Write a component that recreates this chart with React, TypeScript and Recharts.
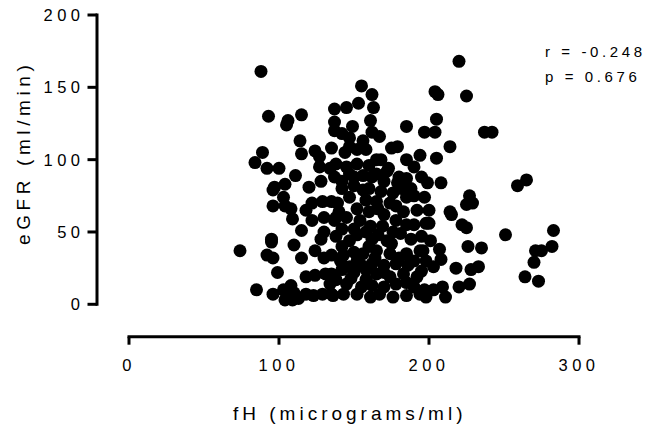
import React from 'react';
import { ScatterChart, Scatter, XAxis, YAxis, ReferenceLine, Customized } from 'recharts';

const xTicks = [0, 100, 200, 300];
const yTicks = [0, 50, 100, 150, 200];
const xTitle = 'fH (micrograms/ml)';
const yTitle = 'eGFR (ml/min)';
const statR = 'r = -0.248';
const statP = 'p = 0.676';

// fH (x) values
const fH = [
  88, 93, 106, 105, 115, 137, 137, 137, 114, 115, 89, 84, 92, 100, 124, 127, 135, 127, 134, 111,
  97, 104, 120, 128, 137, 155, 162, 145, 153, 163, 149, 161, 185, 162, 167, 156, 147, 147, 175, 179,
  194, 205, 144, 152, 158, 138, 145, 152, 173, 180, 185, 162, 156, 220, 204, 206, 225, 205, 197, 204,
  237, 242, 214, 199, 208, 259, 265, 227, 197, 225, 229, 214, 215, 200, 222, 225, 251, 283, 195, 201,
  226, 235, 207, 271, 275, 282, 208, 270, 218, 228, 233, 264, 273, 220, 227, 197, 203, 209, 211, 196,
  198, 203, 195, 96, 103, 96, 104, 108, 109, 118, 122, 129, 135, 122, 115, 95, 95, 74, 110, 92,
  96, 115, 124, 130, 135, 99, 118, 124, 131, 135, 85, 96, 103, 108, 110, 118, 123, 129, 135, 104,
  109, 113, 147, 172, 179, 139, 147, 156, 165, 174, 185, 192, 198, 137, 145, 154, 161, 169, 178, 181,
  138, 147, 156, 165, 174, 185, 194, 141, 147, 158, 165, 174, 183, 192, 138, 145, 136, 143, 152, 161,
  167, 176, 185, 194, 198, 142, 150, 160, 168, 176, 188, 152, 160, 170, 183, 142, 152, 162, 172, 188,
  190, 155, 162, 170, 178, 186, 175, 160, 150, 185, 170, 155, 148, 142, 200, 195, 190, 168, 165, 170,
  142, 130, 128, 130, 140, 150, 158, 166, 176, 185, 143, 152, 164, 180, 190, 150, 158, 170, 178, 190,
  162, 142, 134, 138, 158, 166, 178, 190, 150, 142, 165, 160, 185, 182
];

// eGFR (y) values
const eGFR = [
  161, 130, 127, 124, 131, 135, 126, 120, 113, 104, 105, 98, 94, 94, 106, 102, 108, 95, 94, 89,
  81, 83, 81, 85, 88, 151, 145, 136, 139, 136, 123, 127, 123, 119, 116, 113, 115, 109, 108, 109,
  103, 101, 105, 107, 107, 97, 95, 97, 94, 88, 87, 88, 89, 168, 147, 145, 144, 128, 119, 119,
  119, 119, 109, 84, 84, 82, 86, 75, 74, 69, 70, 64, 62, 56, 55, 53, 48, 51, 47, 44,
  40, 39, 38, 37, 37, 40, 31, 29, 25, 24, 26, 19, 16, 12, 14, 10, 10, 12, 5, 37,
  30, 26, 23, 79, 74, 68, 68, 66, 59, 65, 70, 71, 71, 58, 51, 45, 43, 37, 41, 34,
  32, 32, 37, 32, 34, 22, 19, 20, 21, 21, 10, 7, 10, 13, 8, 7, 6, 7, 7, 3,
  3, 4, 90, 92, 84, 70, 74, 79, 71, 70, 74, 65, 56, 58, 60, 58, 54, 54, 58, 49,
  47, 44, 35, 37, 35, 35, 37, 30, 26, 17, 21, 19, 21, 19, 17, 14, 6, 7, 7, 5,
  7, 5, 6, 7, 5, 80, 82, 80, 78, 77, 80, 66, 64, 62, 64, 52, 48, 45, 44, 45,
  55, 27, 28, 27, 28, 27, 42, 40, 36, 15, 12, 12, 18, 40, 65, 88, 95, 100, 90, 85,
  118, 60, 45, 50, 64, 52, 50, 48, 50, 55, 34, 30, 32, 32, 30, 22, 24, 22, 14, 12,
  13, 24, 14, 60, 72, 66, 68, 75, 88, 85, 100, 96, 100, 80
];

const data = fH.map((x, i) => ({ x, y: eGFR[i] }));

const FONT = '"Liberation Sans", Arial, Helvetica, sans-serif';

const Dot = (props: any) => {
  const { cx, cy } = props;
  if (cx == null || cy == null) return null;
  return <circle cx={cx} cy={cy} r={6.5} fill="#000" />;
};

const tickStyle = { fontFamily: FONT, fontSize: 16.5, fill: '#000', letterSpacing: 4.5 };

const Texts = () => (
  <g fontFamily={FONT} fill="#000">
    <text x={233} y={420} fontSize={19} letterSpacing={4}>{xTitle}</text>
    <text x={30} y={245} fontSize={19} letterSpacing={4.6} transform="rotate(-90 30 245)">{yTitle}</text>
    <text x={545} y={57} fontSize={15} letterSpacing={3.6}>{statR}</text>
    <text x={545} y={82} fontSize={15} letterSpacing={3.6}>{statP}</text>
  </g>
);

export default function App() {
  return (
    <div style={{ width: 651, height: 432, position: 'absolute', left: 0, top: 0, background: '#fff' }}>
      <ScatterChart width={651} height={432} margin={{ top: 15, right: 72, bottom: 55.3, left: 0 }}>
        <XAxis
          type="number"
          dataKey="x"
          domain={[-21.33, 300]}
          ticks={xTicks}
          axisLine={false}
          tickLine={{ stroke: '#000', strokeWidth: 3 }}
          tickSize={8}
          tickMargin={15}
          height={40}
          tick={tickStyle}
          allowDataOverflow
        />
        <YAxis
          type="number"
          dataKey="y"
          domain={[-22.4, 200]}
          ticks={yTicks}
          axisLine={false}
          tickLine={{ stroke: '#000', strokeWidth: 3 }}
          tickSize={9.5}
          tickMargin={3}
          width={97}
          tick={tickStyle}
          allowDataOverflow
        />
        <ReferenceLine
          segment={[{ x: 0, y: -22.4 }, { x: 300, y: -22.4 }]}
          stroke="#000"
          strokeWidth={3}
          strokeLinecap="square"
          ifOverflow="visible"
        />
        <ReferenceLine
          segment={[{ x: -21.33, y: 0 }, { x: -21.33, y: 200 }]}
          stroke="#000"
          strokeWidth={3}
          strokeLinecap="square"
          ifOverflow="visible"
        />
        <Scatter data={data} shape={<Dot />} isAnimationActive={false} fill="#000" />
        <Customized component={Texts} />
      </ScatterChart>
    </div>
  );
}
